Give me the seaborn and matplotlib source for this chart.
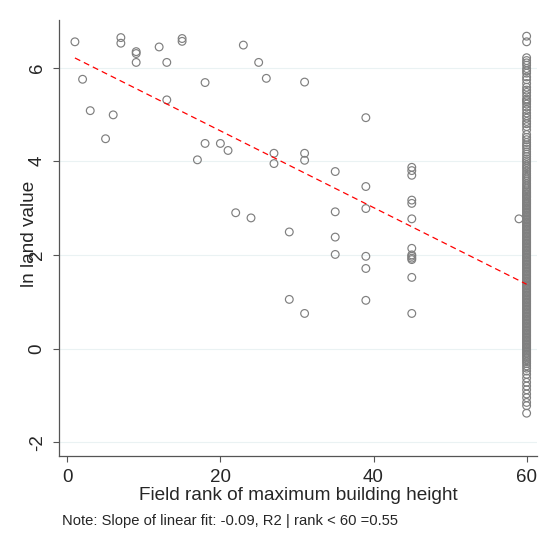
import numpy as np
import pandas as pd
import seaborn as sns
import matplotlib.pyplot as plt

# ranked fields (rank < 60)
rank_lt60 = [1, 2, 3, 5, 6, 7, 7, 9, 9, 9, 12, 13, 13, 15, 15, 17, 18, 18,
             20, 21, 22, 23, 24, 25, 26, 27, 27, 29, 29, 31, 31, 31, 31,
             35, 35, 35, 35, 39, 39, 39, 39, 39, 39,
             45, 45, 45, 45, 45, 45, 45, 45, 45, 45, 45, 45, 45, 59]
lnval_lt60 = [6.55, 5.75, 5.08, 4.48, 4.99, 6.64, 6.52, 6.34, 6.30, 6.11,
              6.44, 6.11, 5.31, 6.62, 6.56, 4.03, 5.68, 4.38, 4.38, 4.23,
              2.90, 6.48, 2.79, 6.11, 5.77, 4.17, 3.95, 2.49, 1.05, 5.69,
              4.17, 4.02, 0.75, 3.78, 2.92, 2.38, 2.01, 4.93, 3.46, 2.99,
              1.97, 1.71, 1.03, 3.87, 3.80, 3.70, 3.17, 3.10, 2.77, 2.14,
              2.00, 1.97, 1.93, 1.90, 1.52, 0.75, 2.77]

# unranked fields, all plotted at rank 60
lnval_60 = [6.67, 6.55,
            6.21, 6.15, 6.10, 6.05, 5.98, 5.93, 5.88, 5.80, 5.74, 5.66,
            5.58, 5.52, 5.47, 5.40, 5.33, 5.30, 5.27, 5.22, 5.16, 5.10,
            5.03, 4.97, 4.92, 4.85, 4.80, 4.74, 4.67,
            4.57, 4.51, 4.46, 4.40, 4.35, 4.31, 4.26, 4.20, 4.15, 4.10,
            4.05, 4.01, 3.97, 3.92, 3.88, 3.84, 3.79, 3.74, 3.70, 3.66,
            3.62, 3.58, 3.53, 3.49, 3.45, 3.41, 3.37,
            3.34, 3.31, 3.28, 3.25, 3.23, 3.19, 3.16, 3.13, 3.10, 3.07,
            3.04, 3.01, 2.98, 2.95, 2.92, 2.89, 2.86, 2.83, 2.80, 2.77,
            2.74, 2.71, 2.68, 2.65, 2.62, 2.59, 2.56, 2.53, 2.50, 2.47,
            2.44, 2.41, 2.38, 2.35, 2.32, 2.29, 2.26, 2.23, 2.20, 2.17,
            2.14, 2.11, 2.08, 2.05, 2.02, 1.99, 1.96, 1.93, 1.90, 1.87,
            1.84, 1.81, 1.78, 1.75, 1.72, 1.69, 1.66, 1.63, 1.60, 1.57,
            1.54, 1.51, 1.48, 1.45, 1.42, 1.39, 1.36, 1.33, 1.30, 1.27,
            1.24, 1.21, 1.18, 1.15, 1.12, 1.09, 1.06, 1.03, 1.00, 0.97,
            0.94, 0.91, 0.88, 0.85, 0.82, 0.79, 0.76, 0.73, 0.70, 0.67,
            0.64, 0.61, 0.58, 0.55, 0.52, 0.49, 0.46, 0.43, 0.40, 0.37,
            0.34, 0.31, 0.28, 0.25, 0.22, 0.19, 0.16, 0.13, 0.10, 0.07,
            0.04, 0.01, -0.02, -0.05, -0.08, -0.11, -0.14, -0.17, -0.20,
            -0.24, -0.28, -0.32, -0.37, -0.42, -0.48,
            -0.55, -0.63, -0.72, -0.80, -0.88, -0.97, -1.05, -1.15, -1.22,
            -1.38]

# linear fit as drawn in the figure
fit_intercept = 6.287
fit_slope = -0.0819

x_ticks = [0, 20, 40, 60]
y_ticks = [-2, 0, 2, 4, 6]
note = "Note: Slope of linear fit: -0.09, R2 | rank < 60 =0.55"

df = pd.DataFrame({
    "rank": rank_lt60 + [60] * len(lnval_60),
    "lnval": lnval_lt60 + lnval_60,
})

sns.set_theme(style="white")
plt.rcParams['font.family'] = ['Liberation Sans', 'DejaVu Sans']
plt.rcParams['lines.scale_dashes'] = False
plt.rcParams['axes.unicode_minus'] = False

fig = plt.figure(figsize=(5.5, 5.35), dpi=100)
ax = fig.add_axes([0.107, 0.148, 0.869, 0.815])

for yt in y_ticks:
    ax.axhline(yt, color="#eaf2f3", lw=0.8, zorder=0)

sns.scatterplot(data=df, x="rank", y="lnval", ax=ax, marker="o", s=31,
                color="#7f7f7f", edgecolor="#7f7f7f", linewidth=0.85, zorder=3)
ax.collections[-1].set_facecolor("none")

fit_x = np.array([min(df["rank"]), max(df["rank"])])
ax.plot(fit_x, fit_intercept + fit_slope * fit_x, color="red", lw=0.9,
        linestyle=(0, (4.3, 2.9)), zorder=4)

ax.set_xlim(-1.1, 61.33)
ax.set_ylim(-2.29, 7.02)
ax.set_xticks(x_ticks)
ax.set_yticks(y_ticks)
ax.tick_params(axis="both", direction="out", length=4, width=0.8,
               color="#555555", labelsize=13.5, pad=5.5, bottom=True, left=True)
for lab in ax.get_yticklabels():
    lab.set_rotation(90)
    lab.set_va("center")

for side in ["top", "right"]:
    ax.spines[side].set_visible(False)
for side in ["left", "bottom"]:
    ax.spines[side].set_color("#555555")
    ax.spines[side].set_linewidth(0.9)

ax.set_xlabel("Field rank of maximum building height", fontsize=13.7, labelpad=1)
ax.set_ylabel("ln land value", fontsize=13.7, va="center")
ax.yaxis.set_label_coords(-0.062, 0.51)

fig.text(62 / 550, 1 - 521 / 535, note, fontsize=10.6, va="center", ha="left")

fig.savefig("out.png", dpi=100)
